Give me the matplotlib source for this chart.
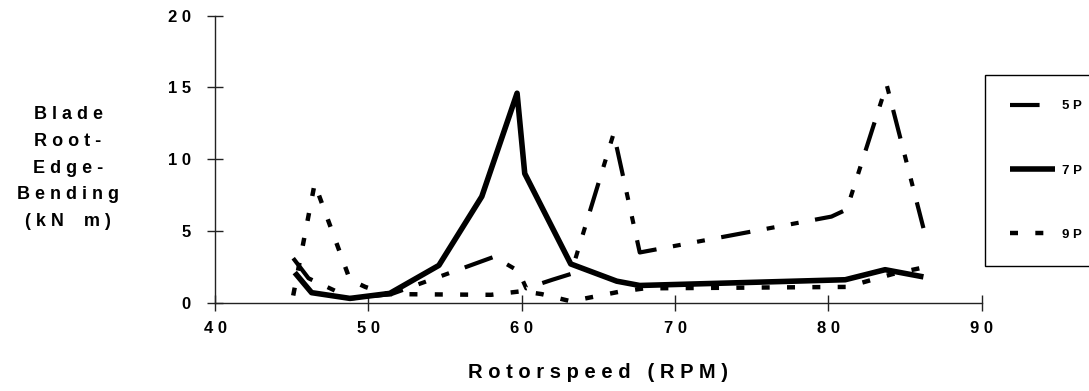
import matplotlib

matplotlib.use("Agg")

import matplotlib.pyplot as plt

# blade root edge bending moment vs rotor speed, one series per excitation
rpm_5p = [45.1, 46.1, 47.5, 48.9, 51.5, 54.6, 58.2, 59.8, 60.3, 62.0, 63.2, 66.0, 67.7, 80.2, 81.2, 83.8, 86.2]
moment_5p = [3.1, 1.7, 1.0, 0.3, 0.6, 1.8, 3.2, 2.2, 1.0, 1.6, 2.0, 11.8, 3.5, 6.0, 6.5, 15.2, 5.2]

rpm_7p = [45.2, 46.3, 48.8, 51.4, 54.6, 57.4, 59.7, 60.2, 63.2, 66.2, 67.7, 81.1, 83.7, 86.2]
moment_7p = [2.1, 0.7, 0.3, 0.65, 2.6, 7.4, 14.6, 9.0, 2.7, 1.5, 1.2, 1.6, 2.3, 1.8]

rpm_9p = [45.1, 46.5, 48.8, 49.8, 51.2, 58.0, 60.0, 61.3, 63.2, 66.3, 68.0, 81.2, 84.2, 86.4]
moment_9p = [0.5, 8.3, 1.6, 1.1, 0.6, 0.55, 0.8, 0.6, 0.1, 0.75, 1.0, 1.1, 2.0, 2.5]

x_ticks = [40, 50, 60, 70, 80, 90]
y_ticks = [0, 5, 10, 15, 20]
series_labels = ["5P", "7P", "9P"]

W, H = 1089, 391
FONT = ["Liberation Sans", "DejaVu Sans"]


def spaced(text, sep=" "):
    return sep.join(text)


plt.rcParams["font.family"] = FONT
plt.rcParams["font.weight"] = "bold"

fig = plt.figure(figsize=(W / 100, H / 100), dpi=100)
ax = fig.add_axes([215 / W, 1 - 302.7 / H, (981.7 - 215) / W, (302.7 - 15.7) / H])

line_5p, = ax.plot(rpm_5p, moment_5p, color="black", lw=3.0,
                   linestyle=(0, (7.1, 4.0, 1.9, 4.0, 1.9, 4.0)), dash_capstyle="butt")
line_7p, = ax.plot(rpm_7p, moment_7p, color="black", lw=4.0,
                   solid_capstyle="butt", solid_joinstyle="round")
line_9p, = ax.plot(rpm_9p, moment_9p, color="black", lw=3.2,
                   linestyle=(0, (1.8, 3.9)), dash_capstyle="butt")

ax.set_xlim(40, 90)
ax.set_ylim(0, 20)
for side in ("top", "right"):
    ax.spines[side].set_visible(False)
for side in ("left", "bottom"):
    ax.spines[side].set_linewidth(1.0)
    ax.spines[side].set_color("#222222")

ax.set_xticks(x_ticks)
ax.set_xticklabels([spaced(str(v)) for v in x_ticks])
ax.set_yticks(y_ticks)
ax.set_yticklabels([spaced(str(v)) for v in y_ticks])
ax.tick_params(axis="both", direction="inout", length=11, width=1.0, color="#222222",
               labelsize=12)
ax.tick_params(axis="x", pad=8)
ax.tick_params(axis="y", pad=12)
for lbl in ax.get_xticklabels() + ax.get_yticklabels():
    lbl.set_fontweight("bold")

fig.text(598 / W, 1 - 372 / H, spaced("Rotorspeed") + "   " + spaced("(RPM)"),
         ha="center", va="center", fontsize=14.5, fontweight="bold")
fig.text(68 / W, 1 - 168 / H,
         "\n".join([spaced("Blade"), spaced("Root-"), spaced("Edge-"), spaced("Bending"),
                    "( k N    m )"]),
         ha="center", va="center", fontsize=13, fontweight="bold", linespacing=1.75)

leg = ax.legend([line_5p, line_7p, line_9p], [spaced(s) for s in series_labels],
                loc="upper left", bbox_to_anchor=(985 / W, 1 - 267 / H, 110 / W, 192 / H),
                bbox_transform=fig.transFigure, mode="expand",
                frameon=True, fancybox=False, edgecolor="black", framealpha=1,
                fontsize=9.5, borderpad=1.9, labelspacing=3.95, handlelength=3.4,
                handletextpad=0.5, borderaxespad=0)
leg.get_frame().set_linewidth(1.0)
for t in leg.get_texts():
    t.set_fontweight("bold")

fig.savefig("out.png", dpi=100)
